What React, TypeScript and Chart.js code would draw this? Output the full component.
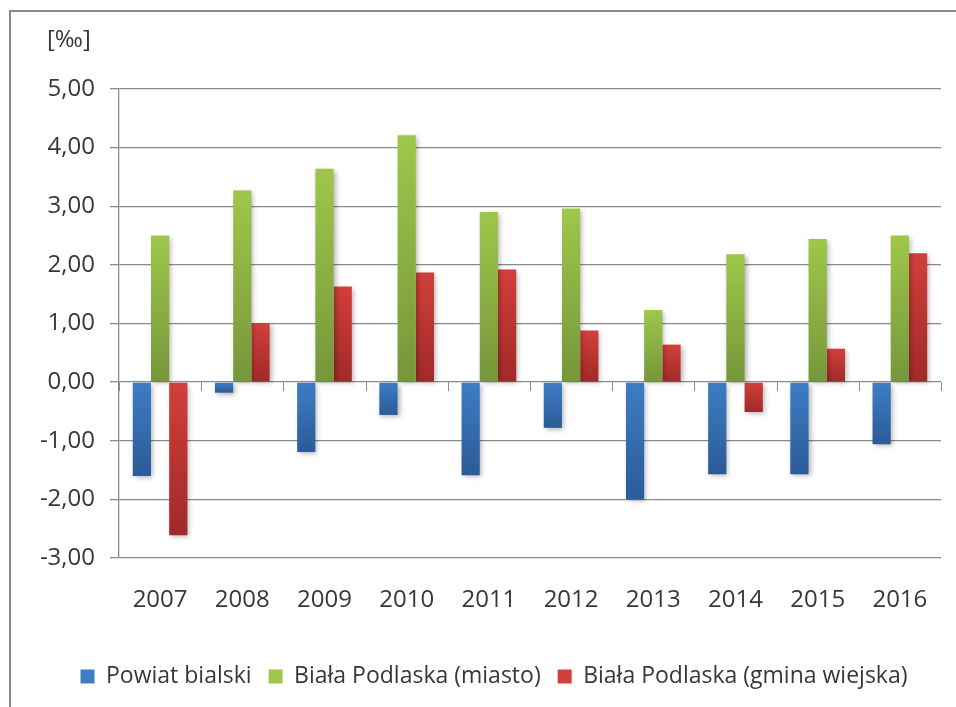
import React, { useEffect, useRef } from 'react';
import { Chart, registerables } from 'chart.js';

Chart.register(...registerables);

const years = ['2007', '2008', '2009', '2010', '2011', '2012', '2013', '2014', '2015', '2016'];
const powiatBialski = [-1.6, -0.18, -1.19, -0.56, -1.59, -0.78, -2.0, -1.57, -1.57, -1.06];
const bialaMiasto = [2.5, 3.27, 3.64, 4.21, 2.9, 2.96, 1.23, 2.18, 2.44, 2.5];
const bialaGmina = [-2.61, 1.01, 1.63, 1.87, 1.92, 0.88, 0.64, -0.51, 0.57, 2.2];
const seriesNames = ['Powiat bialski', 'Biała Podlaska (miasto)', 'Biała Podlaska (gmina wiejska)'];
const yMin = -3;
const yMax = 5;
const yStep = 1;
const unitLabel = '[‰]';

const FONT = "'Open Sans', 'DejaVu Sans', sans-serif";
const TEXT = '#383838';
const GRID = '#8a8a8a';

const palette = [
  { top: '#3d7dc4', bottom: '#2b5b98' },
  { top: '#9ec74a', bottom: '#76963a' },
  { top: '#d23f3b', bottom: '#a02a28' },
];

function barGradient(top: string, bottom: string) {
  return (ctx: any) => {
    const chart = ctx.chart;
    if (ctx.type !== 'data' || !chart.chartArea || !chart.scales.y) return bottom;
    const v = ctx.raw as number;
    const ys = chart.scales.y;
    const p1 = ys.getPixelForValue(v);
    const p0 = ys.getPixelForValue(0);
    const y1 = Math.min(p0, p1);
    const y2 = Math.max(p0, p1);
    if (y2 - y1 < 1) return top;
    const g = chart.ctx.createLinearGradient(0, y1, 0, y2);
    g.addColorStop(0, top);
    g.addColorStop(1, bottom);
    return g;
  };
}

const shadowPlugin = {
  id: 'barShadow',
  beforeDatasetsDraw(chart: any) {
    const c = chart.ctx;
    c.save();
    c.shadowColor = 'rgba(0,0,0,0.3)';
    c.shadowBlur = 5;
    c.shadowOffsetX = 2;
    c.shadowOffsetY = 2;
  },
  afterDatasetsDraw(chart: any) {
    chart.ctx.restore();
  },
};

const zeroTicksPlugin = {
  id: 'zeroTicks',
  afterDatasetsDraw(chart: any) {
    const xs = chart.scales.x;
    const ys = chart.scales.y;
    const c = chart.ctx;
    const y0 = ys.getPixelForValue(0);
    const n = xs.ticks.length;
    const w = xs.width / n;
    c.save();
    c.strokeStyle = GRID;
    c.lineWidth = 1;
    c.beginPath();
    for (let i = 0; i <= n; i++) {
      const x = Math.round(xs.left + i * w) + 0.5;
      c.moveTo(x, y0);
      c.lineTo(x, y0 + 9);
    }
    c.stroke();
    c.restore();
  },
};

const legendShiftPlugin = {
  id: 'legendShift',
  afterLayout(chart: any) {
    const lg = chart.legend;
    if (lg) {
      lg.left += 8;
      lg.right += 8;
    }
  },
};

const unitPlugin = {
  id: 'unitLabel',
  afterDraw(chart: any) {
    const c = chart.ctx;
    c.save();
    c.font = `24px ${FONT}`;
    c.fillStyle = TEXT;
    c.textAlign = 'left';
    c.textBaseline = 'middle';
    c.fillText(unitLabel, 47, 40);
    c.restore();
  },
};

export default function App() {
  const ref = useRef<HTMLCanvasElement | null>(null);

  useEffect(() => {
    if (!ref.current) return;
    const data = [powiatBialski, bialaMiasto, bialaGmina];
    const chart = new Chart(ref.current, {
      type: 'bar',
      data: {
        labels: years,
        datasets: data.map((d, i) => ({
          label: seriesNames[i],
          data: d,
          backgroundColor: barGradient(palette[i].top, palette[i].bottom) as any,
          borderWidth: 0,
          categoryPercentage: 0.665,
          barPercentage: 1,
        })),
      },
      options: {
        animation: false,
        responsive: false,
        layout: { padding: { left: 30, right: 14, top: 89, bottom: 9 } },
        font: { family: FONT },
        scales: {
          x: {
            grid: { display: false, drawTicks: false },
            border: { display: false },
            ticks: { font: { family: FONT, size: 24 }, color: TEXT, padding: 28 },
            afterFit: (s: any) => {
              s.height = 90;
            },
          },
          y: {
            min: yMin,
            max: yMax,
            ticks: {
              stepSize: yStep,
              font: { family: FONT, size: 24 },
              color: TEXT,
              padding: 15,
              callback: (v: any) => Number(v).toFixed(2).replace('.', ','),
            },
            grid: { color: GRID, lineWidth: 1.3, tickLength: 9 },
            border: { display: true, color: GRID, width: 1.3 },
            afterFit: (s: any) => {
              s.width = 89;
            },
          },
        },
        plugins: {
          tooltip: { enabled: false },
          legend: {
            position: 'bottom',
            labels: {
              boxWidth: 14,
              boxHeight: 14,
              padding: 17,
              color: TEXT,
              font: { family: FONT, size: 23 },
              generateLabels: (ch: any) =>
                ch.data.datasets.map((ds: any, i: number) => ({
                  text: ds.label,
                  fillStyle: palette[i].top,
                  strokeStyle: palette[i].top,
                  lineWidth: 0,
                  hidden: false,
                  datasetIndex: i,
                  fontColor: TEXT,
                })),
            },
          },
        },
      },
      plugins: [shadowPlugin, zeroTicksPlugin, legendShiftPlugin, unitPlugin],
    });
    return () => chart.destroy();
  }, []);

  return (
    <div
      style={{
        position: 'fixed',
        left: 0,
        top: 0,
        width: 956,
        height: 707,
        overflow: 'hidden',
        background: '#ffffff',
      }}
    >
      <div
        style={{
          position: 'absolute',
          left: 9,
          top: 10,
          width: 1000,
          height: 800,
          border: '2px solid #8a8a8a',
        }}
      />
      <canvas
        ref={ref}
        width={956}
        height={707}
        style={{ position: 'absolute', left: 0, top: 0, width: 956, height: 707 }}
      />
    </div>
  );
}
